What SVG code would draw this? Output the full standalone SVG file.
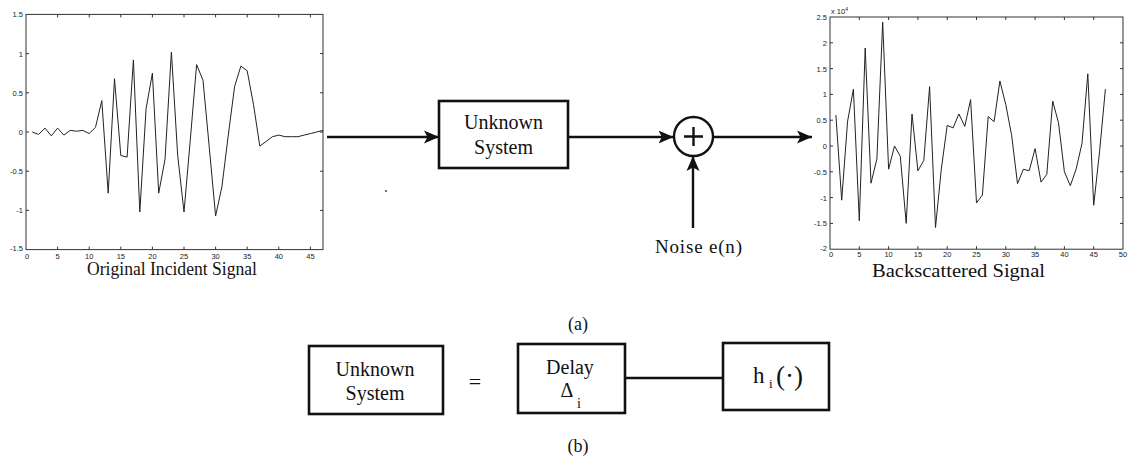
<svg xmlns="http://www.w3.org/2000/svg" width="1128" height="459" viewBox="0 0 1128 459">
<style>
.lbl{font-family:"Liberation Serif","Times New Roman",serif;fill:#111}
.tk{font-family:"Liberation Sans",Arial,sans-serif;font-size:7.5px;fill:#222}
.ax{fill:none;stroke:#333;stroke-width:1}
.sig{fill:none;stroke:#222;stroke-width:1;stroke-linejoin:miter}
.box{fill:#fff;stroke:#111;stroke-width:2.6}
.wire{fill:none;stroke:#111;stroke-width:2.4}
</style>
<defs>
<marker id="ah" markerUnits="userSpaceOnUse" markerWidth="16" markerHeight="14" refX="15" refY="7" orient="auto">
<path d="M0,0.5 L15,7 L0,13.5 L3.5,7 z" fill="#111"/>
</marker>
</defs>
<rect width="1128" height="459" fill="#fff"/>

<g id="plot-incident">
<rect class="ax" x="26" y="14.4" width="297" height="235.2"/>
<path class="ax" d="M57.6,249.6v-3M89.2,249.6v-3M120.8,249.6v-3M152.4,249.6v-3M184,249.6v-3M215.6,249.6v-3M247.2,249.6v-3M278.8,249.6v-3M310.4,249.6v-3
M57.6,14.4v3M89.2,14.4v3M120.8,14.4v3M152.4,14.4v3M184,14.4v3M215.6,14.4v3M247.2,14.4v3M278.8,14.4v3M310.4,14.4v3
M26,53.6h3M26,92.8h3M26,132h3M26,171.2h3M26,210.4h3
M323,53.6h-3M323,92.8h-3M323,132h-3M323,171.2h-3M323,210.4h-3"/>
<g class="tk" text-anchor="end">
<text x="23" y="17">1.5</text><text x="23" y="56.5">1</text><text x="23" y="95.5">0.5</text><text x="23" y="135">0</text><text x="23" y="174">-0.5</text><text x="23" y="213">-1</text><text x="23" y="251">-1.5</text>
</g>
<g class="tk" text-anchor="middle">
<text x="27" y="258.5">0</text><text x="57.6" y="258.5">5</text><text x="89.2" y="258.5">10</text><text x="120.8" y="258.5">15</text><text x="152.4" y="258.5">20</text><text x="184" y="258.5">25</text><text x="215.6" y="258.5">30</text><text x="247.2" y="258.5">35</text><text x="278.8" y="258.5">40</text><text x="310.4" y="258.5">45</text>
</g>
<polyline class="sig" points="32.3,132 38.6,134.4 45,128.1 51.3,135.9 57.6,128.1 63.9,135.1 70.2,130.4 76.6,131.2 82.9,130.4 89.2,133.6 95.5,127.3 101.8,100.6 108.2,193.2 114.5,78.7 120.8,155.5 127.1,157.1 133.4,59.9 139.8,212 146.1,108.5 152.4,73.2 158.7,193.2 165,159.4 171.4,52 177.7,155.5 184,212 190.3,139.8 196.6,64.6 203,80.3 209.3,147.7 215.6,215.9 221.9,186.9 228.2,135.9 234.6,86.5 240.9,66.1 247.2,70.8 253.5,104.6 259.8,146.1 266.2,141.4 272.5,136.7 278.8,135.1 285.1,136.7 291.4,136.7 297.8,136.7 304.1,135.1 310.4,133.6 316.7,132 323,130.4"/>
<text class="lbl" x="172" y="275" font-size="18" text-anchor="middle" textLength="170" lengthAdjust="spacingAndGlyphs">Original Incident Signal</text>
</g>

<g id="plot-backscattered">
<rect class="ax" x="830" y="17" width="293" height="232.2"/>
<path class="ax" d="M859.3,249.2v-3M888.6,249.2v-3M917.9,249.2v-3M947.2,249.2v-3M976.5,249.2v-3M1005.8,249.2v-3M1035.1,249.2v-3M1064.4,249.2v-3M1093.7,249.2v-3
M859.3,17v3M888.6,17v3M917.9,17v3M947.2,17v3M976.5,17v3M1005.8,17v3M1035.1,17v3M1064.4,17v3M1093.7,17v3
M830,42.8h3M830,68.6h3M830,94.4h3M830,120.2h3M830,146h3M830,171.8h3M830,197.6h3M830,223.4h3
M1123,42.8h-3M1123,68.6h-3M1123,94.4h-3M1123,120.2h-3M1123,146h-3M1123,171.8h-3M1123,197.6h-3M1123,223.4h-3"/>
<text class="tk" x="831" y="14" font-size="7">x 10<tspan font-size="5" dy="-3">4</tspan></text>
<g class="tk" text-anchor="end">
<text x="827" y="20">2.5</text><text x="827" y="45.8">2</text><text x="827" y="71.6">1.5</text><text x="827" y="97.4">1</text><text x="827" y="123.2">0.5</text><text x="827" y="149">0</text><text x="827" y="174.8">-0.5</text><text x="827" y="200.6">-1</text><text x="827" y="226.4">-1.5</text><text x="827" y="251">-2</text>
</g>
<g class="tk" text-anchor="middle">
<text x="831" y="257">0</text><text x="859.3" y="257">5</text><text x="888.6" y="257">10</text><text x="917.9" y="257">15</text><text x="947.2" y="257">20</text><text x="976.5" y="257">25</text><text x="1005.8" y="257">30</text><text x="1035.1" y="257">35</text><text x="1064.4" y="257">40</text><text x="1093.7" y="257">45</text><text x="1123" y="257">50</text>
</g>
<polyline class="sig" points="835.9,115 841.7,200.2 847.6,121.2 853.4,89.2 859.3,220.8 865.2,48 871,183.2 876.9,158.9 882.7,22.2 888.6,169.2 894.5,146 900.3,156.3 906.2,223.4 912,114 917.9,170.8 923.8,160.4 929.6,86.7 935.5,227.5 941.3,169.2 947.2,125.4 953.1,127.9 958.9,114 964.8,126.4 970.6,99.6 976.5,202.8 982.4,195 988.2,116.6 994.1,121.7 999.9,81 1005.8,104.7 1011.7,135.7 1017.5,183.7 1023.4,169.2 1029.2,170.8 1035.1,148.6 1041,182.1 1046.8,174.4 1052.7,101.1 1058.5,122.8 1064.4,171.8 1070.3,185.7 1076.1,169.2 1082,143.4 1087.8,73.8 1093.7,205.3 1099.6,151.2 1105.4,89.2"/>
<text class="lbl" x="958.5" y="277" font-size="18" text-anchor="middle" textLength="173" lengthAdjust="spacingAndGlyphs">Backscattered Signal</text>
</g>

<g id="connectors">
<line class="wire" x1="327" y1="137" x2="439" y2="137" marker-end="url(#ah)"/>
<line class="wire" x1="568" y1="137" x2="673.5" y2="137" marker-end="url(#ah)"/>
<line class="wire" x1="713" y1="137" x2="812" y2="137" marker-end="url(#ah)"/>
<line class="wire" x1="693" y1="228" x2="693" y2="156" marker-end="url(#ah)"/>
<line class="wire" x1="625" y1="378" x2="723" y2="378" stroke-width="2"/>
</g>

<g id="node-unknown-system">
<rect class="box" x="439" y="101" width="129" height="67"/>
<text class="lbl" x="503.5" y="128.5" font-size="20" text-anchor="middle">Unknown</text>
<text class="lbl" x="503.5" y="154" font-size="20" text-anchor="middle">System</text>
</g>

<g id="node-sum">
<circle cx="693.5" cy="136.5" r="19.5" fill="#fff" stroke="#111" stroke-width="2.4"/>
<path d="M684,136.5h19M693.5,127v19" stroke="#111" stroke-width="2.4" fill="none"/>
</g>

<g id="node-noise">
<text class="lbl" x="655" y="253" font-size="19" textLength="87" lengthAdjust="spacing">Noise e(n)</text>
</g>

<circle cx="386" cy="191" r="0.9" fill="#333"/>

<text class="lbl" x="578" y="330" font-size="18" text-anchor="middle">(a)</text>

<g id="node-unknown-system-b">
<rect class="box" x="309" y="346" width="134" height="68"/>
<text class="lbl" x="375" y="376" font-size="20" text-anchor="middle">Unknown</text>
<text class="lbl" x="375" y="400" font-size="20" text-anchor="middle">System</text>
</g>

<text class="lbl" x="475" y="389" font-size="22" text-anchor="middle">=</text>

<g id="node-delay">
<rect class="box" x="518" y="344" width="107" height="69"/>
<text class="lbl" x="570" y="374" font-size="20" text-anchor="middle">Delay</text>
<text class="lbl" x="567" y="397" font-size="20" text-anchor="middle">Δ</text>
<text class="lbl" x="579" y="408" font-size="14" text-anchor="middle">i</text>
</g>

<g id="node-h">
<rect class="box" x="723" y="343" width="106" height="67"/>
<text class="lbl" x="753" y="383" font-size="23">h</text>
<text class="lbl" x="769" y="388" font-size="13">i</text>
<text class="lbl" x="776" y="385" font-size="27">(·)</text>
</g>

<text class="lbl" x="578" y="452" font-size="18" text-anchor="middle">(b)</text>
</svg>
